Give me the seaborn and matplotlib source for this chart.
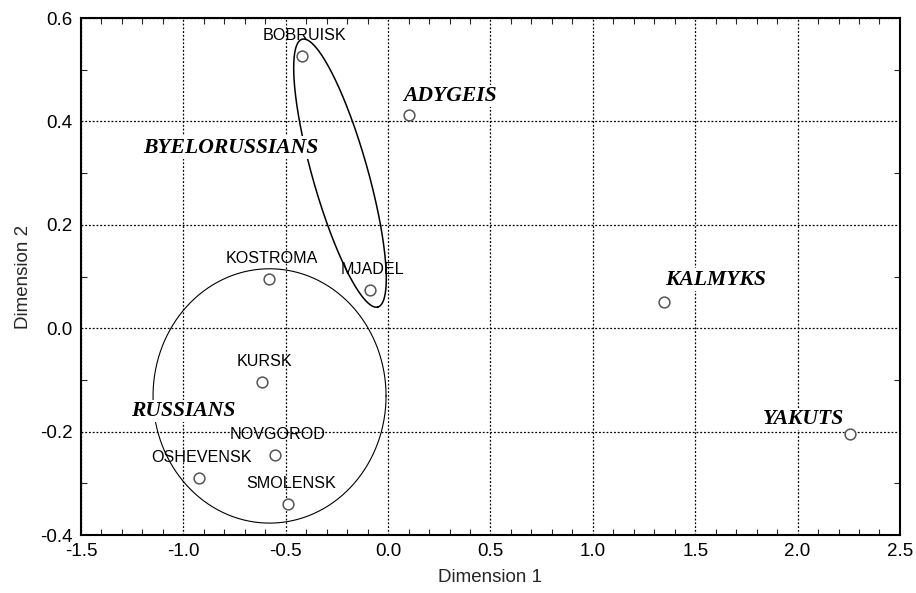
import numpy as np
import pandas as pd
import matplotlib
matplotlib.use('Agg')
import matplotlib.pyplot as plt
import seaborn as sns

# points
names = ['BOBRUISK', 'KOSTROMA', 'MJADEL', 'KURSK', 'NOVGOROD', 'OSHEVENSK',
         'SMOLENSK', 'ADYGEIS', 'KALMYKS', 'YAKUTS']
dim1 = [-0.42, -0.58, -0.09, -0.616, -0.553, -0.924, -0.489, 0.10, 1.347, 2.256]
dim2 = [0.527, 0.095, 0.074, -0.104, -0.245, -0.29, -0.34, 0.412, 0.051, -0.205]
is_group = [False] * 7 + [True] * 3

# free group labels
group_names = ['BYELORUSSIANS', 'RUSSIANS']
group_x = [-0.767, -1.002]
group_y = [0.349, -0.160]

df = pd.DataFrame({'name': names, 'd1': dim1, 'd2': dim2, 'group': is_group})

sns.set_style('white')
plt.rcParams['font.family'] = ['Liberation Sans', 'DejaVu Sans']

fig = plt.figure(figsize=(9.16, 5.93), dpi=100)
ax = fig.add_axes([0.0884, 0.0978, 0.8941, 0.8718])

ax.set_xlim(-1.5, 2.5)
ax.set_ylim(-0.4, 0.6)
ax.set_xticks(np.arange(-1.5, 2.51, 0.5))
ax.set_yticks(np.arange(-0.4, 0.61, 0.2))
ax.set_xticklabels(['-1.5', '-1.0', '-0.5', '0.0', '0.5', '1.0', '1.5', '2.0', '2.5'])
ax.set_yticklabels(['-0.4', '-0.2', '0.0', '0.2', '0.4', '0.6'])
ax.set_xticks(np.arange(-1.5, 2.51, 0.1), minor=True)
ax.set_yticks(np.arange(-0.4, 0.61, 0.1), minor=True)
ax.grid(True, which='major', color='black', linestyle=(0, (1.5, 1.5)), linewidth=0.9, zorder=0)
ax.set_axisbelow(True)
ax.tick_params(which='major', length=0, labelsize=13.5, pad=6, colors='black')
ax.tick_params(which='minor', direction='in', length=4, width=0.8,
               top=True, right=True, bottom=True, left=True)
for s in ax.spines.values():
    s.set_color('black')
    s.set_linewidth(1.5)

# Russians ellipse
t = np.linspace(0, 2 * np.pi, 400)
ax.plot(-0.579 + 0.569 * np.cos(t), -0.131 + 0.246 * np.sin(t),
        color='black', linewidth=0.8, zorder=2)
# Byelorussians ellipse (tilted)
cx, cy = -0.235, 0.30
ax.plot(cx + 0.185 * np.cos(t) + 0.13 * np.sin(t),
        cy - 0.259 * np.cos(t) + 0.0145 * np.sin(t),
        color='black', linewidth=1.1, zorder=2)

sns.scatterplot(data=df, x='d1', y='d2', ax=ax, marker='o', s=60,
                facecolor='white', edgecolor='#555555', linewidth=1.1, zorder=4,
                legend=False)

bbox = dict(facecolor='white', edgecolor='none', pad=1.0)
for _, r in df[~df['group']].iterrows():
    ax.annotate(r['name'], (r['d1'], r['d2']), xytext=(2, 14.5),
                textcoords='offset points', ha='center', va='center',
                fontsize=11.6, color='black', zorder=3)

group_offsets = {'ADYGEIS': ((-3.6, 13.7), 'left'),
                 'KALMYKS': ((0.7, 16), 'left'),
                 'YAKUTS': ((-4.3, 11), 'right')}
for _, r in df[df['group']].iterrows():
    off, ha = group_offsets[r['name']]
    ax.annotate(r['name'], (r['d1'], r['d2']), xytext=off,
                textcoords='offset points', ha=ha, va='center',
                fontsize=15.6, fontweight='bold', fontstyle='italic',
                family='Liberation Serif', color='black', bbox=bbox, zorder=3)

for n, gx, gy in zip(group_names, group_x, group_y):
    ax.text(gx, gy, n, ha='center', va='center', fontsize=15.6,
            fontweight='bold', fontstyle='italic', family='Liberation Serif',
            color='black', bbox=bbox, zorder=3)

ax.set_xlabel('Dimension 1', fontsize=13.5, labelpad=6)
ax.set_ylabel('Dimension 2', fontsize=13.5, labelpad=6)

fig.savefig('out.png', dpi=100)
